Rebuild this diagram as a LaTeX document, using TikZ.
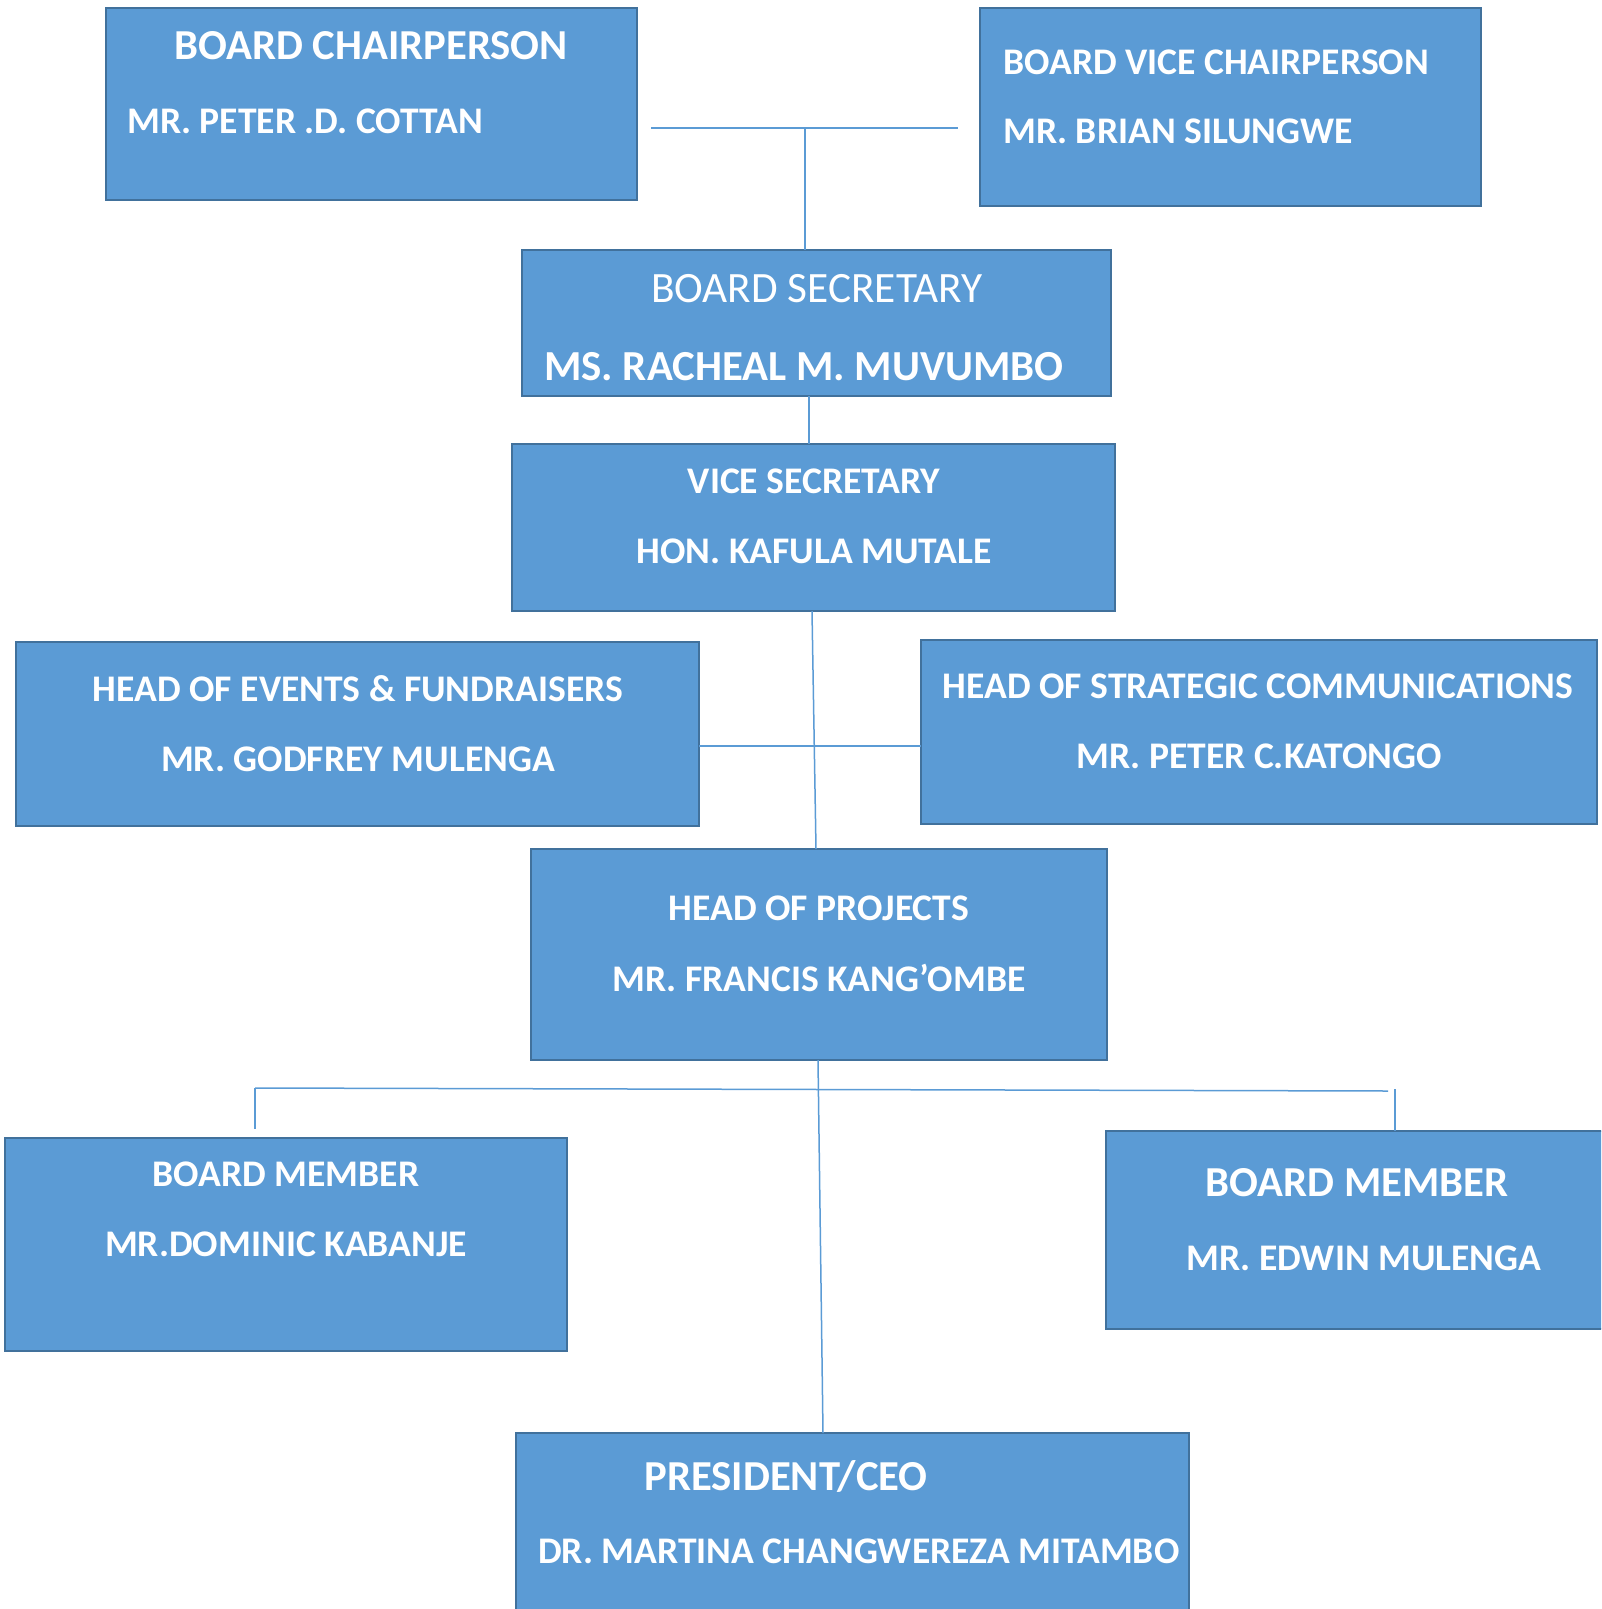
\documentclass[tikz,border=0pt]{standalone}
\usepackage{fontspec}
\setmainfont{Carlito}
\usetikzlibrary{calc}
\definecolor{boxfill}{HTML}{5B9BD5}
\definecolor{boxedge}{HTML}{41719C}
\definecolor{linkcol}{HTML}{5B9BD5}
\begin{document}
\begin{tikzpicture}[x=1pt,y=-1pt,
  box/.style={draw=boxedge, line width=2.2pt, fill=boxfill, anchor=north west, inner sep=0pt, outer sep=0pt},
  lbl/.style={text=white, font=\bfseries\fontsize{37.6}{44}\selectfont, inner sep=0pt, anchor=base},
  lblw/.style={lbl, anchor=base west},
  big/.style={font=\bfseries\fontsize{42.7}{50}\selectfont},
  link/.style={draw=linkcol, line width=1.5pt}]
\useasboundingbox (0,0) rectangle (1601,1609);
\clip (0,0) rectangle (1601,1609);

% boxes
\node[box, minimum width=531pt, minimum height=192pt] (chair) at (106,8) {};
\node[box, minimum width=501pt, minimum height=198pt] (vice) at (980,8) {};
\node[box, minimum width=589pt, minimum height=146pt] (sec) at (522,250) {};
\node[box, minimum width=603pt, minimum height=167pt] (vsec) at (512,444) {};
\node[box, minimum width=683pt, minimum height=184pt] (events) at (16,642) {};
\node[box, minimum width=676pt, minimum height=184pt] (strat) at (921,640) {};
\node[box, minimum width=576pt, minimum height=211pt] (proj) at (531,849) {};
\node[box, minimum width=562pt, minimum height=213pt] (bml) at (5,1138) {};
\node[box, minimum width=520pt, minimum height=198pt] (bmr) at (1106,1131) {};
\node[box, minimum width=673pt, minimum height=230pt] (pres) at (516,1433) {};

% texts
\node[lbl, big] (chairT) at (371,59.5) {BOARD CHAIRPERSON};
\node[lblw] (chairN) at (127,133) {MR. PETER .D. COTTAN};
\node[lblw] (viceT) at (1003,74) {BOARD VICE CHAIRPERSON};
\node[lblw] (viceN) at (1003,143) {MR. BRIAN SILUNGWE};
\node[lbl, font=\mdseries\fontsize{43.3}{50}\selectfont] (secT) at (817,302.5) {BOARD SECRETARY};
\node[lblw, font=\bfseries\fontsize{42.8}{50}\selectfont] (secN) at (544,380) {MS. RACHEAL M. MUVUMBO};
\node[lbl] (vsecT) at (814,493) {VICE SECRETARY};
\node[lbl] (vsecN) at (814,563) {HON. KAFULA MUTALE};
\node[lbl] (eventsT) at (358,701) {HEAD OF EVENTS \& FUNDRAISERS};
\node[lbl] (eventsN) at (358,771) {MR. GODFREY MULENGA};
\node[lbl] (stratT) at (1258,698) {HEAD OF STRATEGIC COMMUNICATIONS};
\node[lbl] (stratN) at (1259,768) {MR. PETER C.KATONGO};
\node[lbl] (projT) at (819,920) {HEAD OF PROJECTS};
\node[lbl] (projN) at (819,991) {MR. FRANCIS KANG’OMBE};
\node[lbl] (bmlT) at (286,1186) {BOARD MEMBER};
\node[lbl] (bmlN) at (286,1256) {MR.DOMINIC KABANJE};
\node[lbl, big] (bmrT) at (1357,1196.5) {BOARD MEMBER};
\node[lbl] (bmrN) at (1364,1270) {MR. EDWIN MULENGA};
\node[lbl, big] (presT) at (786,1490.5) {PRESIDENT/CEO};
\node[lblw] (presN) at (538,1563) {DR. MARTINA CHANGWEREZA MITAMBO};

% connector helper coordinates
\coordinate (topL) at (651,128);
\coordinate (topR) at (958,128);
\coordinate (topJ) at (805,128);
\coordinate (x1) at (809,0);
\coordinate (x2a) at (812,0);
\coordinate (x2b) at (816,0);
\coordinate (midY) at (0,746);
\coordinate (x3a) at (818,0);
\coordinate (x3b) at (823,0);
\coordinate (busL) at (255,1088);
\coordinate (busR) at (1388,1091);
\coordinate (dropL) at (255,1129);
\coordinate (dropRt) at (1395,1089);
\coordinate (dropRb) at (1395,1131);

% connectors
\draw[link, line width=2pt] (topL) -- (topR);
\draw[link] (topJ) -- (topJ |- sec.north);
\draw[link] (sec.south -| x1) -- (vsec.north -| x1);
\draw[link] (vsec.south -| x2a) -- (proj.north -| x2b);
\draw[link] (events.east |- midY) -- (strat.west |- midY);
\draw[link] (proj.south -| x3a) -- (pres.north -| x3b);
\draw[link] (busL) -- (busR);
\draw[link] (busL) -- (dropL);
\draw[link] (dropRt) -- (dropRb);
\end{tikzpicture}
\end{document}
